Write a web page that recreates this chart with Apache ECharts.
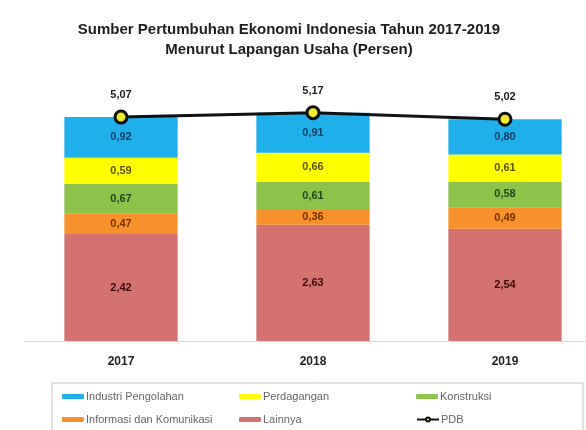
<!DOCTYPE html>
<html>
<head>
<meta charset="utf-8">
<script src="https://cdn.jsdelivr.net/npm/echarts@6/dist/echarts.min.js"></script>
<style>
  html, body { margin: 0; padding: 0; background: #ffffff; }
  #chart { width: 586px; height: 430px; }
</style>
</head>
<body>
<div id="chart"></div>
<script>
// Sumber pertumbuhan ekonomi per lapangan usaha (persen)
const years = ['2017', '2018', '2019'];
const lainnya = [2.42, 2.63, 2.54];
const infokom = [0.47, 0.36, 0.49];
const konstruksi = [0.67, 0.61, 0.58];
const perdagangan = [0.59, 0.66, 0.61];
const industri = [0.92, 0.91, 0.80];
const pdb = [5.07, 5.17, 5.02];

const FONT = '"Liberation Sans", Arial, sans-serif';
const fmt = v => v.toFixed(2).replace('.', ',');

function stackSeries(name, data, color, labelColor) {
  return {
    name: name,
    type: 'bar',
    stack: 'total',
    data: data,
    barWidth: '59%',
    itemStyle: { color: color },
    label: {
      show: true,
      position: 'inside',
      formatter: p => fmt(p.value),
      color: labelColor,
      fontFamily: FONT,
      fontWeight: 'bold',
      fontSize: 11
    },
    emphasis: { disabled: true }
  };
}

function legendAt(name, left, top) {
  return {
    data: [name],
    left: left,
    top: top,
    orient: 'horizontal',
    itemWidth: 22,
    itemHeight: 5,
    itemGap: 0,
    padding: 0,
    selectedMode: false,
    textStyle: { fontFamily: FONT, fontSize: 11, color: '#666666', padding: [0, 0, 0, -3] }
  };
}

const chart = echarts.init(document.getElementById('chart'), null, { renderer: 'canvas' });

chart.setOption({
  animation: false,
  backgroundColor: '#ffffff',
  title: {
    text: 'Sumber Pertumbuhan Ekonomi Indonesia Tahun 2017-2019\nMenurut Lapangan Usaha (Persen)',
    left: 284,
    top: 15,
    textAlign: 'center',
    textStyle: {
      fontFamily: FONT,
      fontWeight: 'bold',
      fontSize: 15,
      lineHeight: 20,
      color: '#1e1e1e'
    }
  },
  graphic: [{
    type: 'rect',
    shape: { x: 52, y: 383, width: 531, height: 60 },
    style: { fill: 'none', stroke: '#c4c4c4', lineWidth: 1 },
    silent: true
  }],
  legend: [
    legendAt('Industri Pengolahan', 62, 391),
    legendAt('Perdagangan', 239, 391),
    legendAt('Konstruksi', 416, 391),
    legendAt('Informasi dan Komunikasi', 62, 414),
    legendAt('Lainnya', 239, 414),
    legendAt('PDB', 416, 414)
  ],
  grid: { left: 25, width: 576, top: 76, bottom: 89, containLabel: false, outerBoundsMode: 'none' },
  xAxis: {
    type: 'category',
    data: years,
    axisLine: { show: true, lineStyle: { color: '#d9d9d9', width: 1 } },
    axisTick: { show: false },
    axisLabel: {
      margin: 15,
      fontFamily: FONT,
      fontWeight: 'bold',
      fontSize: 12,
      color: '#222222'
    }
  },
  yAxis: {
    type: 'value',
    min: 0,
    max: 6,
    show: false,
    splitLine: { show: false }
  },
  series: [
    stackSeries('Lainnya', lainnya, '#d4726f', '#3d0c0c'),
    stackSeries('Informasi dan Komunikasi', infokom, '#f7912c', '#7a2e02'),
    stackSeries('Konstruksi', konstruksi, '#8dc24b', '#1d4a1a'),
    stackSeries('Perdagangan', perdagangan, '#ffff00', '#5a5400'),
    stackSeries('Industri Pengolahan', industri, '#1fafea', '#153f66'),
    {
      name: 'PDB',
      type: 'line',
      data: pdb,
      symbol: 'circle',
      symbolSize: 12,
      lineStyle: { color: '#111111', width: 3 },
      itemStyle: { color: '#f2ec2e', borderColor: '#111111', borderWidth: 3 },
      label: {
        show: true,
        position: 'top',
        distance: 9,
        formatter: p => fmt(p.value),
        fontFamily: FONT,
        fontWeight: 'bold',
        fontSize: 11,
        color: '#222222'
      },
      z: 5,
      emphasis: { disabled: true }
    }
  ]
});
</script>
</body>
</html>
